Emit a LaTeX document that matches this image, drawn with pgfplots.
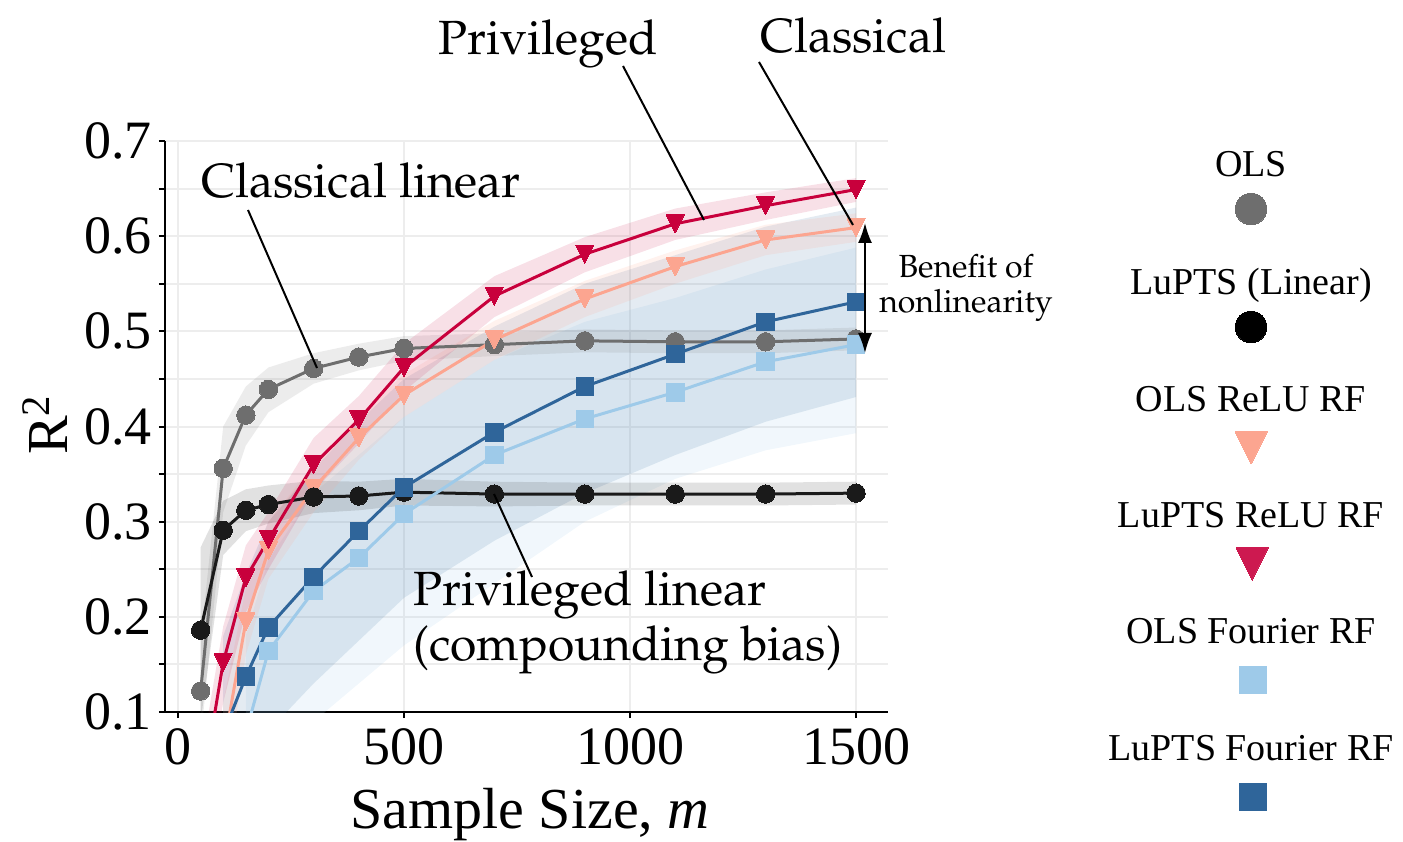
\documentclass[border=0pt]{standalone}
\usepackage[T1]{fontenc}
\usepackage{fontspec}
\setmainfont{Liberation Serif}
\usepackage{pgfplots}
\usepackage{pgfplotstable}
\pgfplotsset{compat=1.18}
\usetikzlibrary{arrows.meta}
\newcommand\pal{\fontencoding{T1}\fontfamily{ppl}\selectfont}

\definecolor{colOLS}{HTML}{6E6E6E}
\definecolor{colLin}{HTML}{1A1A1A}
\definecolor{colSal}{HTML}{FCA590}
\definecolor{colRed}{HTML}{C8003C}
\definecolor{colLB}{HTML}{9ECAE9}
\definecolor{colDB}{HTML}{2F659A}
\definecolor{gridc}{HTML}{EDEDED}

\pgfdeclareplotmark{vtri}{%
  \pgfpathmoveto{\pgfqpoint{0pt}{-\pgfplotmarksize}}%
  \pgfpathlineto{\pgfqpoint{-\pgfplotmarksize}{\pgfplotmarksize}}%
  \pgfpathlineto{\pgfqpoint{\pgfplotmarksize}{\pgfplotmarksize}}%
  \pgfpathclose\pgfusepathqfillstroke}

% mean curves
\pgfplotstableread{
x y
50 0.122
100 0.356
150 0.412
200 0.439
300 0.461
400 0.473
500 0.482
700 0.486
900 0.490
1100 0.489
1300 0.489
1500 0.492
}\tOLS
\pgfplotstableread{
x y
50 0.186
100 0.291
150 0.312
200 0.318
300 0.326
400 0.327
500 0.331
700 0.329
900 0.329
1100 0.329
1300 0.329
1500 0.330
}\tLin
\pgfplotstableread{
x y
50 0.01
100 0.152
150 0.241
200 0.281
300 0.360
400 0.407
500 0.462
700 0.537
900 0.581
1100 0.613
1300 0.632
1500 0.649
}\tRed
\pgfplotstableread{
x y
100 0.06
150 0.195
200 0.270
300 0.335
400 0.388
500 0.433
700 0.491
900 0.534
1100 0.568
1300 0.596
1500 0.609
}\tSal
\pgfplotstableread{
x y
100 0.077
150 0.137
200 0.189
300 0.242
400 0.290
500 0.336
700 0.394
900 0.442
1100 0.476
1300 0.510
1500 0.531
}\tDB
\pgfplotstableread{
x y
150 0.078
200 0.164
300 0.227
400 0.262
500 0.308
700 0.370
900 0.408
1100 0.436
1300 0.468
1500 0.486
}\tLB

% confidence bands: upper edge left to right, then lower edge right to left
\pgfplotstableread{
x y
50 0.175
100 0.40
150 0.442
200 0.462
300 0.477
400 0.487
500 0.495
700 0.498
900 0.502
1100 0.501
1300 0.501
1500 0.504
1500 0.480
1300 0.477
1100 0.477
900 0.478
700 0.474
500 0.469
400 0.459
300 0.445
200 0.415
150 0.38
100 0.31
50 0.07
}\bOLS
\pgfplotstableread{
x y
50 0.273
100 0.322
150 0.334
200 0.338
300 0.343
400 0.342
500 0.345
700 0.342
900 0.341
1100 0.341
1300 0.341
1500 0.342
1500 0.318
1300 0.317
1100 0.317
900 0.317
700 0.316
500 0.317
400 0.312
300 0.309
200 0.298
150 0.29
100 0.265
50 0.09
}\bLin
\pgfplotstableread{
x y
50 0.05
100 0.19
150 0.275
200 0.31
300 0.388
400 0.432
500 0.487
700 0.558
900 0.599
1100 0.629
1300 0.646
1500 0.661
1500 0.636
1300 0.617
1100 0.596
900 0.562
700 0.515
500 0.437
400 0.382
300 0.332
200 0.25
150 0.205
100 0.11
50 -0.03
}\bRed
\pgfplotstableread{
x y
100 0.11
150 0.23
200 0.30
300 0.36
400 0.411
500 0.455
700 0.511
900 0.553
1100 0.585
1300 0.612
1500 0.624
1500 0.594
1300 0.58
1100 0.55
900 0.515
700 0.47
500 0.41
400 0.365
300 0.31
200 0.24
150 0.16
100 0.01
}\bSal
\pgfplotstableread{
x y
100 0.18
150 0.245
200 0.30
300 0.355
400 0.405
500 0.45
700 0.505
900 0.55
1100 0.58
1300 0.61
1500 0.63
1500 0.431
1300 0.405
1100 0.37
900 0.33
700 0.28
500 0.22
400 0.175
300 0.13
200 0.08
150 0.03
100 -0.03
}\bDB
\pgfplotstableread{
x y
150 0.18
200 0.26
300 0.33
400 0.37
500 0.41
700 0.47
900 0.51
1100 0.535
1300 0.565
1500 0.588
1500 0.393
1300 0.375
1100 0.345
900 0.30
700 0.235
500 0.17
400 0.13
300 0.09
200 0.02
150 -0.05
}\bLB

\begin{document}
\begin{tikzpicture}
\path[use as bounding box] (-82.5pt,-64.5pt) rectangle (619pt,356pt);
\begin{axis}[
  at={(0pt,0pt)}, anchor=south west,
  scale only axis, width=361.5pt, height=285.5pt,
  xmin=-28.8, xmax=1570.8, ymin=0.1, ymax=0.7,
  axis x line*=bottom, axis y line*=left,
  axis line style={line width=1.1pt, black, -},
  xtick={0,500,1000,1500},
  ytick={0.1,0.2,0.3,0.4,0.5,0.6,0.7},
  minor ytick={0.15,0.25,0.35,0.45,0.55,0.65},
  tick align=outside,
  major tick length=3pt, minor tick length=3pt,
  tick style={black, line width=1pt},
  grid=both,
  major grid style={gridc, line width=1pt},
  minor grid style={gridc, line width=1pt},
  /pgf/number format/assume math mode=true,
  /pgf/number format/1000 sep={},
  yticklabel style={/pgf/number format/fixed, /pgf/number format/precision=1, /pgf/number format/fixed zerofill},
  ticklabel style={font=\fontsize{27}{30}\selectfont},
  xticklabel style={yshift=-2pt},
  xlabel={Sample Size, \textit{m}},
  ylabel={R\textsuperscript{2}},
  label style={font=\fontsize{29}{32}\selectfont},
  xlabel style={at={(axis description cs:0.505,-0.18)}, anchor=center},
  ylabel style={at={(axis description cs:-0.166,0.503)}, anchor=center},
]
% bands
\addplot[fill=colLB, fill opacity=0.15, draw=none, forget plot] table[x=x,y=y]{\bLB} -- cycle;
\addplot[fill=colDB, fill opacity=0.13, draw=none, forget plot] table[x=x,y=y]{\bDB} -- cycle;
\addplot[fill=colOLS, fill opacity=0.13, draw=none, forget plot] table[x=x,y=y]{\bOLS} -- cycle;
\addplot[fill=colLin, fill opacity=0.13, draw=none, forget plot] table[x=x,y=y]{\bLin} -- cycle;
\addplot[fill=colSal, fill opacity=0.15, draw=none, forget plot] table[x=x,y=y]{\bSal} -- cycle;
\addplot[fill=colRed, fill opacity=0.12, draw=none, forget plot] table[x=x,y=y]{\bRed} -- cycle;
% lines
\addplot[colOLS, line width=1.5pt, mark=*, mark size=4.6pt, mark options={fill=colOLS, draw=colOLS, line width=0pt}] table[x=x,y=y]{\tOLS};
\addplot[colSal, line width=1.5pt, mark=vtri, mark size=4.5pt, mark options={fill=colSal, draw=colSal, line width=0pt}] table[x=x,y=y]{\tSal};
\addplot[colLin, line width=1.5pt, mark=*, mark size=4.6pt, mark options={fill=colLin, draw=colLin, line width=0pt}] table[x=x,y=y]{\tLin};
\addplot[colRed, line width=1.5pt, mark=vtri, mark size=4.5pt, mark options={fill=colRed, draw=colRed, line width=0pt}] table[x=x,y=y]{\tRed};
\addplot[colLB, line width=1.5pt, mark=square*, mark size=4.4pt, mark options={fill=colLB, draw=colLB, line width=0pt}] table[x=x,y=y]{\tLB};
\addplot[colDB, line width=1.5pt, mark=square*, mark size=4.4pt, mark options={fill=colDB, draw=colDB, line width=0pt}] table[x=x,y=y]{\tDB};
\end{axis}

% overlay axis in pixel units for annotations and the legend
\begin{axis}[
  at={(0pt,0pt)}, anchor=south west,
  scale only axis, width=361.5pt, height=285.5pt,
  xmin=165, xmax=888, ymin=-712, ymax=-141,
  axis lines=none, ticks=none, clip=false,
]
% legend markers
\addplot[only marks, mark=*, mark size=7.9pt, mark options={fill=colOLS, draw=colOLS, line width=0pt}] coordinates {(1251,-209)};
\addplot[only marks, mark=*, mark size=7.9pt, mark options={fill=black, draw=black, line width=0pt}] coordinates {(1251,-327)};
\addplot[only marks, mark=vtri, mark size=8pt, mark options={fill=colSal, draw=colSal, line width=0pt}] coordinates {(1251,-448)};
\addplot[only marks, mark=vtri, mark size=8pt, mark options={fill=colRed!90!white, draw=colRed!90!white, line width=0pt}] coordinates {(1252,-564)};
\addplot[only marks, mark=square*, mark size=6.75pt, mark options={fill=colLB, draw=colLB, line width=0pt}] coordinates {(1253,-680)};
\addplot[only marks, mark=square*, mark size=6.75pt, mark options={fill=colDB, draw=colDB, line width=0pt}] coordinates {(1253,-797)};
% annotations
\node[anchor=base, font=\pal\fontsize{24}{27}\selectfont, inner sep=0pt] at (axis cs:361,-198) {Classical linear};
\draw[black, line width=1pt] (axis cs:248,-210) -- (axis cs:317,-368);
\node[anchor=base, font=\pal\fontsize{24}{27}\selectfont, inner sep=0pt] at (axis cs:548,-55) {Privileged};
\draw[black, line width=1pt] (axis cs:623,-66) -- (axis cs:704,-220);
\node[anchor=base, font=\pal\fontsize{24}{27}\selectfont, inner sep=0pt] at (axis cs:853,-53) {Classical};
\draw[black, line width=1pt] (axis cs:759,-62) -- (axis cs:853,-225);
\node[anchor=base west, align=left, font=\pal\fontsize{24}{27.5}\selectfont, inner sep=0pt] at (axis cs:413,-660) {Privileged linear\\(compounding bias)};
\draw[black, line width=1pt] (axis cs:494,-494) -- (axis cs:532,-577);
\draw[black, line width=1pt, {Latex[length=10pt,width=7pt]}-{Latex[length=10pt,width=7pt]}] (axis cs:865,-223) -- (axis cs:865,-353);
\node[anchor=base, align=center, font=\pal\fontsize{16}{17.5}\selectfont, inner sep=0pt] at (axis cs:966,-313) {Benefit of\\nonlinearity};
\node[anchor=base, font=\fontsize{19}{22}\selectfont, inner sep=0pt] at (axis cs:1251,-177) {OLS};
\node[anchor=base, font=\fontsize{19}{22}\selectfont, inner sep=0pt] at (axis cs:1251,-295) {LuPTS (Linear)};
\node[anchor=base, font=\fontsize{19}{22}\selectfont, inner sep=0pt] at (axis cs:1251,-412) {OLS ReLU RF};
\node[anchor=base, font=\fontsize{19}{22}\selectfont, inner sep=0pt] at (axis cs:1251,-527) {LuPTS ReLU RF};
\node[anchor=base, font=\fontsize{19}{22}\selectfont, inner sep=0pt] at (axis cs:1251,-643) {OLS Fourier RF};
\node[anchor=base, font=\fontsize{19}{22}\selectfont, inner sep=0pt] at (axis cs:1251,-760) {LuPTS Fourier RF};
\end{axis}
\end{tikzpicture}
\end{document}
